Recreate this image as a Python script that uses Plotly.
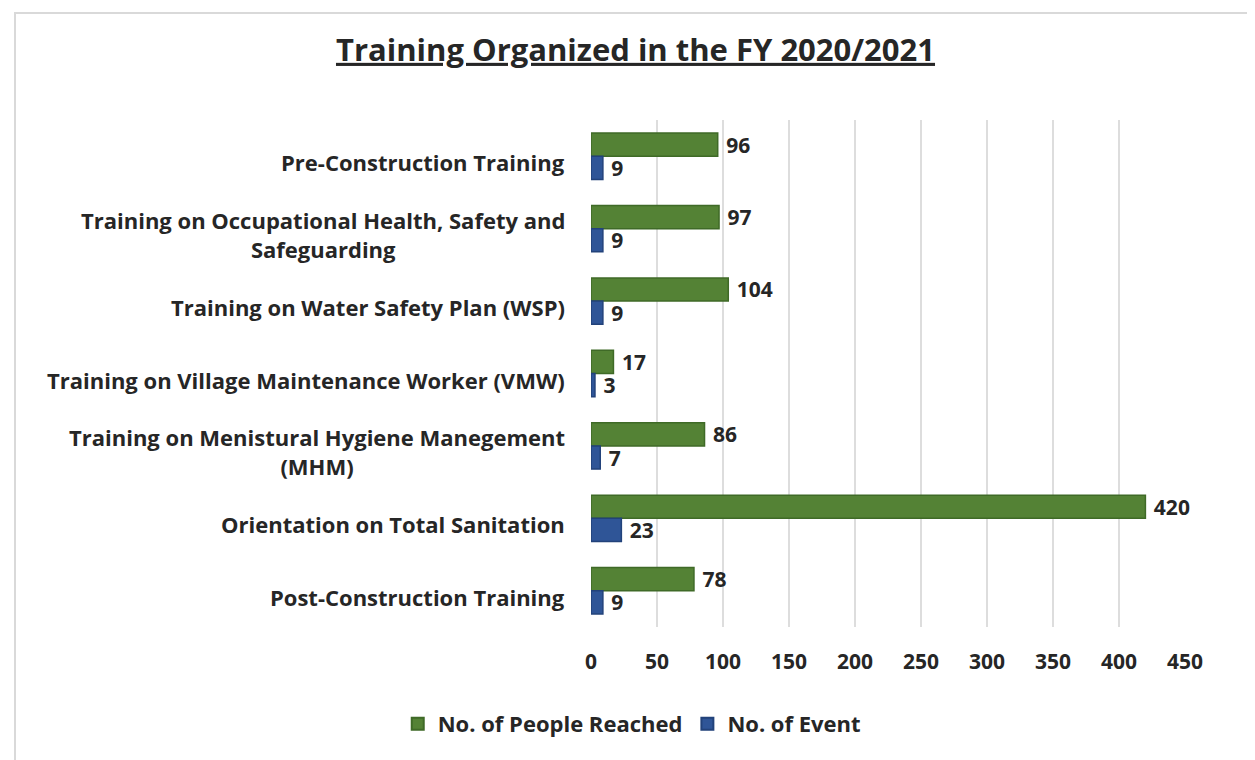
import plotly.graph_objects as go

categories = [
    "Pre-Construction Training",
    "Training on Occupational Health, Safety and<br>Safeguarding",
    "Training on Water Safety Plan (WSP)",
    "Training on Village Maintenance Worker (VMW)",
    "Training on Menistural Hygiene Manegement<br>(MHM)",
    "Orientation on Total Sanitation",
    "Post-Construction Training",
]
people_reached = [96, 97, 104, 17, 86, 420, 78]
events = [9, 9, 9, 3, 7, 23, 9]
x_ticks = [0, 50, 100, 150, 200, 250, 300, 350, 400, 450]

W, H = 1255, 760
L, R, T, B = 583, 78, 112, 141
PW, PH = W - L - R, H - T - B

FONT = "Open Sans"
TXT = "#262626"
GREEN = "#548235"
BLUE = "#2F5597"

fig = go.Figure()
fig.add_trace(go.Bar(
    y=categories, x=people_reached, orientation="h", name="No. of People Reached",
    marker=dict(color=GREEN, line=dict(color="#3F6A27", width=1.5)),
    text=people_reached, texttemplate=" %{x}", textposition="outside", cliponaxis=False,
    constraintext="none",
    textfont=dict(family=FONT, size=21, color=TXT, weight="bold"),
))
fig.add_trace(go.Bar(
    y=categories, x=events, orientation="h", name="No. of Event",
    marker=dict(color=BLUE, line=dict(color="#22427A", width=1.5)),
    text=events, texttemplate=" %{x}", textposition="outside", cliponaxis=False,
    constraintext="none",
    textfont=dict(family=FONT, size=21, color=TXT, weight="bold"),
))

annotations = []
for c in categories:
    annotations.append(dict(
        xref="paper", yref="y", x=-24 / PW, y=c, xanchor="right", yanchor="middle",
        text=c, showarrow=False, align="center", yshift=-6,
        font=dict(family=FONT, size=22, color=TXT, weight="bold"),
    ))

fig.update_layout(
    width=W, height=H,
    margin=dict(l=L, r=R, t=T, b=B),
    paper_bgcolor="white", plot_bgcolor="white",
    barmode="group", bargap=0.36, bargroupgap=0,
    title=dict(
        text="<u>Training Organized in the FY 2020/2021</u>",
        x=0.5, xref="container", xanchor="center",
        y=1 - 42 / H, yref="container", yanchor="middle",
        font=dict(family=FONT, size=31, color=TXT, weight="bold"),
    ),
    xaxis=dict(
        range=[0, 450], tickvals=x_ticks, showgrid=True, gridcolor="#DDDDDD", gridwidth=2,
        zeroline=False, showline=False, ticks="", ticklabelstandoff=20,
        tickfont=dict(family=FONT, size=21, color=TXT, weight="bold"),
        fixedrange=True,
    ),
    yaxis=dict(
        autorange="reversed", showticklabels=False, showgrid=False, zeroline=False,
        showline=False, ticks="",
    ),
    legend=dict(
        orientation="h", xref="container", x=0.497, xanchor="center",
        yref="container", y=1 - 716 / H, yanchor="middle",
        font=dict(family=FONT, size=22, color=TXT, weight="bold"),
        itemsizing="constant", traceorder="normal",
    ),
    annotations=annotations,
    shapes=[dict(
        type="rect", xref="paper", yref="paper",
        x0=(7 - L) / PW, x1=(W - L - 2) / PW,
        y0=-(B + 5) / PH, y1=1 + (T - 5) / PH,
        line=dict(color="#D9D9D9", width=2), fillcolor="rgba(0,0,0,0)", layer="below",
    )],
)

fig.write_html("out.html")
